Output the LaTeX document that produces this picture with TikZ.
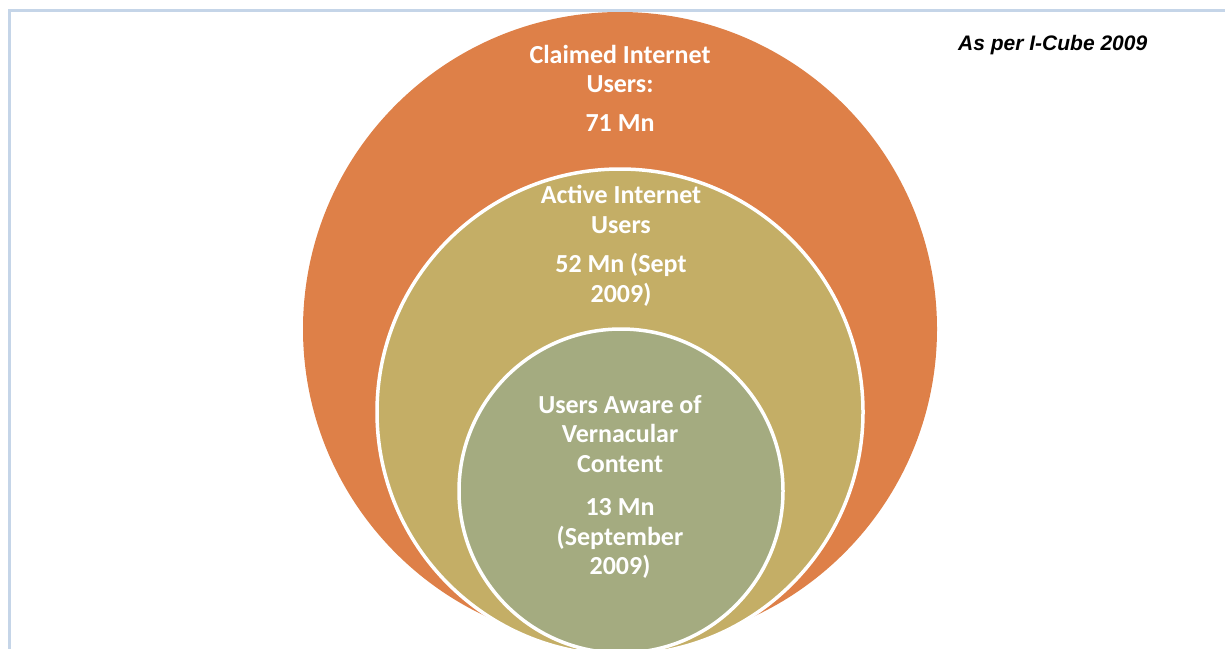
\documentclass[tikz,border=0pt]{standalone}
\usepackage{fontspec}
\setmainfont{Carlito}
\newfontfamily\notefont{Liberation Sans}
\definecolor{claimedorange}{RGB}{222,128,72}
\definecolor{activetan}{RGB}{196,174,102}
\definecolor{awaregreen}{RGB}{164,171,128}
\definecolor{framegray}{RGB}{197,213,232}

\begin{document}
\begin{tikzpicture}[x=1pt, y=-1pt,
            ring/.style={circle, inner sep=0pt},
            claimed/.style={fill=claimedorange, minimum size=634pt},
            active/.style={fill=activetan, draw=white, line width=3.5pt, minimum size=486pt},
            aware/.style={fill=awaregreen, draw=white, line width=3.5pt, minimum size=324pt},
            caption/.style={text=white, align=center, inner sep=0pt, font=\bfseries\fontsize{26}{29.5}\selectfont},]

        \useasboundingbox (0,0) rectangle (1225,648);
        \clip (0,0) rectangle (1225,648);

        % Frame
        \draw[framegray, line width=3pt] (9.5,10.5) rectangle (1300,700);

        % Circles
        \node[ring, claimed] (claimedring) at (620,329) {};
        \node[ring, active]  (activering)  at (620,412) {};
        \node[ring, aware]   (awarering)   at (621,491) {};

        % Labels
        \node[caption] (claimedtext) at (620,88)  {Claimed Internet\\Users:\\[9pt]71 Mn};
        \node[caption] (activetext)  at (621,246) {Active Internet\\Users\\[10pt]52 Mn (Sept\\2009)};
        \node[caption] (awaretext)   at (620,487) {Users Aware of\\Vernacular\\Content\\[14pt]13 Mn\\(September\\2009)};

        % Source note
        \node[font=\notefont\bfseries\itshape\fontsize{21}{25}\selectfont, anchor=base west, inner sep=0pt] (source) at (958,50) {As per I-Cube 2009};
\end{tikzpicture}
\end{document}
